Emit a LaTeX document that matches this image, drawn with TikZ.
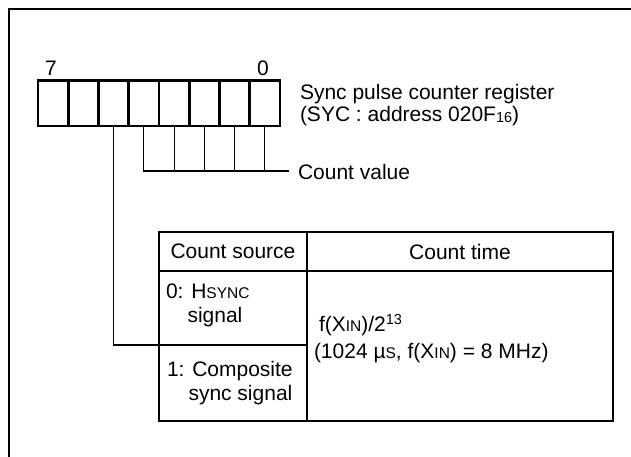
\documentclass[tikz,border=0pt]{standalone}
\usepackage{fontspec}
\setmainfont{Liberation Sans}
\newcommand{\smc}[1]{{\fontsize{15.5}{15.5}\selectfont #1}}
\newcommand{\supnum}[1]{\raisebox{7pt}{\fontsize{14.5}{14.5}\selectfont #1}}
\begin{document}
\begin{tikzpicture}[x=1pt,y=-1pt,
  font=\fontsize{21}{24}\selectfont,
  bitcell/.style={draw, line width=2.8pt, minimum width=30.25pt, minimum height=45.3pt, inner sep=0pt, outer sep=0pt},
  tcell/.style={draw, line width=1.1pt, inner sep=0pt, outer sep=0pt, anchor=north west},
  conn/.style={line width=1.1pt},
  framestyle/.style={line width=2.8pt},
  lbl/.style={anchor=base west, inner sep=0pt, outer sep=0pt},
  bitlbl/.style={anchor=base, inner sep=0pt}]
\useasboundingbox (0,0) rectangle (631,456);
% outer frame (runs off the picture at right and bottom)
\draw[framestyle] (9,470) -- (9,9) -- (645,9);
% register cells
\foreach \i/\n in {0/b7,1/b6,2/b5,3/b4,4/b3,5/b2,6/b1,7/b0}{
  \node[bitcell] (\n) at ({38+30.25*(\i+0.5)},103.4) {};
}
\node[bitlbl] (l7) at (51,75) {7};
\node[bitlbl] (l0) at (263,75) {0};
\node[lbl] (reg1) at (300,99.5) {Sync pulse counter register};
\node[lbl] (reg2) at (300,121) {(SYC : address 020F\raisebox{-1pt}{\fontsize{14.5}{14.5}\selectfont 16})};
% count value connectors
\coordinate (cv) at (289,171);
\draw[conn] (b4.south) |- (cv);
\foreach \n in {b3,b2,b1,b0}{ \draw[conn] (\n.south) -- (\n.south |- cv); }
\node[lbl] (cvt) at (298,179) {Count value};
% table
\node[tcell, minimum width=148pt, minimum height=39pt] (hsrc) at (159,232) {Count source};
\node[tcell, minimum width=306pt, minimum height=39pt] (htime) at (307,232) {Count time};
\node[tcell, minimum width=148pt, minimum height=74pt] (r0) at (159,271) {};
\node[tcell, minimum width=148pt, minimum height=76pt] (r1) at (159,345) {};
\node[tcell, minimum width=306pt, minimum height=150pt] (rt) at (307,271) {};
\node[lbl] (r0a) at (166,298) {0: H\smc{SYNC}};
\node[lbl] (r0b) at (187.5,322) {signal};
\node[lbl] (r1a) at (167,376.5) {1: Composite};
\node[lbl] (r1b) at (188.5,400) {sync signal};
\node[lbl] (t1) at (319,331.5) {f(X\smc{IN})/2\supnum{13}};
\node[lbl] (t2) at (314,358) {(1024 µ\smc{S}, f(X\smc{IN}) = 8 MHz)};
% bit 5 connector
\draw[conn] (b5.south) |- (r1.north west);
\end{tikzpicture}
\end{document}
